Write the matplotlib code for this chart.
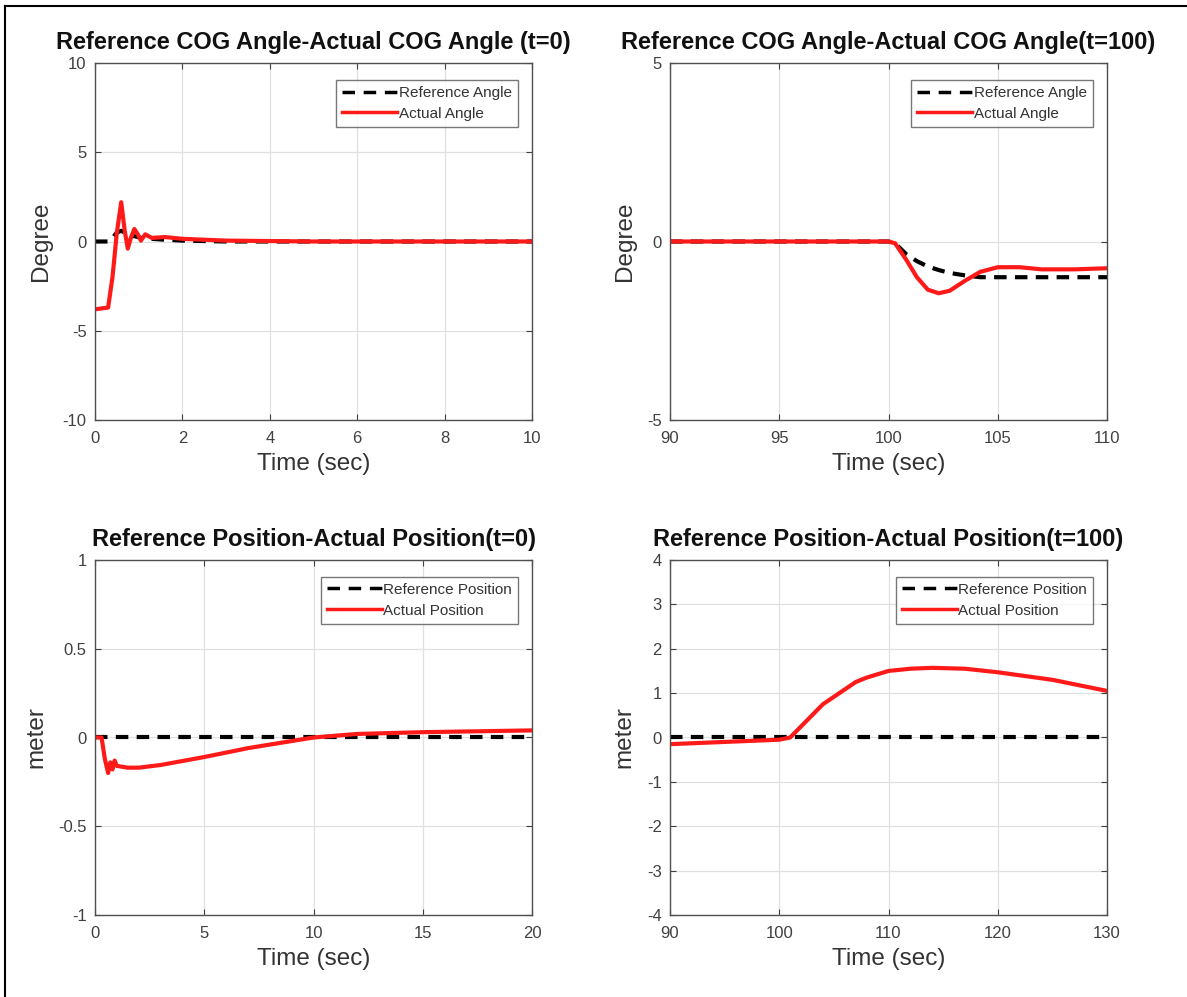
import numpy as np
import matplotlib.pyplot as plt
from matplotlib.lines import Line2D

plt.rcParams['font.family'] = ['Liberation Sans', 'DejaVu Sans']

# COG angle, t=0 case
t_ang0 = [0, 0.3, 0.4, 0.5, 0.6, 0.68, 0.75, 0.82, 0.9, 0.98, 1.05, 1.15, 1.3, 1.6, 2.0, 3.0, 5.0, 10.0]
ref_ang0 = [0, 0, 0.2, 0.5, 0.6, 0.5, 0.4, 0.3, 0.3, 0.25, 0.2, 0.2, 0.15, 0.1, 0.05, 0.0, 0.0, 0.0]
act_ang0 = [-3.8, -3.7, -2.0, 0.5, 2.2, 0.6, -0.4, 0.2, 0.7, 0.4, 0.05, 0.4, 0.2, 0.25, 0.15, 0.05, 0.0, 0.0]

# COG angle, t=100 case
t_ang100 = [90, 100.0, 100.3, 100.8, 101.3, 101.8, 102.3, 102.8, 103.5, 104.2, 105.0, 106.0, 107.0, 108.5, 110.0]
ref_ang100 = [0, 0, -0.05, -0.35, -0.55, -0.7, -0.8, -0.88, -0.95, -1.0, -1.0, -1.0, -1.0, -1.0, -1.0]
act_ang100 = [0, 0, -0.05, -0.5, -1.0, -1.35, -1.45, -1.38, -1.1, -0.85, -0.72, -0.72, -0.78, -0.78, -0.75]

# position, t=0 case
t_pos0 = [0, 0.3, 0.45, 0.6, 0.7, 0.8, 0.9, 1.0, 1.5, 2.0, 3.0, 5.0, 7.0, 9.0, 10.0, 12.0, 15.0, 20.0]
ref_pos0 = [0] * len(t_pos0)
act_pos0 = [0, 0, -0.12, -0.2, -0.14, -0.18, -0.13, -0.16, -0.17, -0.17, -0.155, -0.11, -0.06, -0.02, 0.0, 0.02, 0.03, 0.04]

# position, t=100 case
t_pos100 = [90, 95, 100, 101, 102, 103, 104, 105.5, 107, 108, 110, 112, 114, 117, 120, 125, 130]
ref_pos100 = [0] * len(t_pos100)
act_pos100 = [-0.15, -0.1, -0.05, 0.0, 0.25, 0.5, 0.75, 1.0, 1.25, 1.35, 1.5, 1.55, 1.57, 1.55, 1.47, 1.3, 1.05]

fig = plt.figure(figsize=(11.87, 9.97), dpi=100)
W, H = 1187, 997

def make_ax(x0, y0, x1, y1):
    return fig.add_axes([x0 / W, 1 - y1 / H, (x1 - x0) / W, (y1 - y0) / H])

panels = [
    (make_ax(95, 63, 532, 420), t_ang0, ref_ang0, act_ang0, (0, 10), (-10, 10),
     [0, 2, 4, 6, 8, 10], [-10, -5, 0, 5, 10], 'Degree',
     'Reference COG Angle-Actual COG Angle (t=0)', ['Reference Angle', 'Actual Angle']),
    (make_ax(670, 63, 1107, 420), t_ang100, ref_ang100, act_ang100, (90, 110), (-5, 5),
     [90, 95, 100, 105, 110], [-5, 0, 5], 'Degree',
     'Reference COG Angle-Actual COG Angle(t=100)', ['Reference Angle', 'Actual Angle']),
    (make_ax(95, 560, 532, 915), t_pos0, ref_pos0, act_pos0, (0, 20), (-1, 1),
     [0, 5, 10, 15, 20], [-1, -0.5, 0, 0.5, 1], 'meter',
     'Reference Position-Actual Position(t=0)', ['Reference Position', 'Actual Position']),
    (make_ax(670, 560, 1107, 915), t_pos100, ref_pos100, act_pos100, (90, 130), (-4, 4),
     [90, 100, 110, 120, 130], [-4, -3, -2, -1, 0, 1, 2, 3, 4], 'meter',
     'Reference Position-Actual Position(t=100)', ['Reference Position', 'Actual Position']),
]

for ax, t, ref, act, xl, yl, xt, yt, ylab, title, labels in panels:
    ax.plot(t, ref, color='black', linestyle='--', linewidth=3, dashes=(3, 2), label=labels[0])
    ax.plot(t, act, color='#ff1a1a', linewidth=3, label=labels[1])
    ax.set_xlim(xl)
    ax.set_ylim(yl)
    ax.set_xticks(xt)
    ax.set_yticks(yt)
    ax.set_xticklabels([f'{v:g}' for v in xt])
    ax.set_yticklabels([f'{v:g}' for v in yt])
    ax.grid(True, color='#e0e0e0', linewidth=0.9)
    ax.set_axisbelow(True)
    ax.tick_params(direction='in', labelsize=12, colors='#404040', length=4,
                   top=True, right=True)
    ax.tick_params(axis='x', pad=8)
    ax.tick_params(axis='y', pad=6)
    for s in ax.spines.values():
        s.set_color('#505050')
        s.set_linewidth(1.0)
    ax.set_xlabel('Time (sec)', fontsize=17.5, color='#333333', labelpad=5)
    ax.set_ylabel(ylab, fontsize=17.5, color='#333333', labelpad=8)
    ax.set_title(title, fontsize=17, fontweight='bold', color='#111111', pad=10)
    leg = ax.legend(loc='upper right', bbox_to_anchor=(0.968, 0.953), fontsize=11,
                    frameon=True, fancybox=False, edgecolor='#555555',
                    handlelength=3.6, handletextpad=0.1, borderpad=0.4,
                    labelspacing=0.45, borderaxespad=0)
    leg.get_frame().set_linewidth(1.0)
    leg_lines = leg.get_lines()
    for line in leg_lines:
        line.set_linewidth(2.5)
    leg_lines[0].set_dashes((3.6, 2.5))
    for txt in leg.get_texts():
        txt.set_color('#333333')

# thin page border on left and top
fig.add_artist(Line2D([5 / W, 5 / W], [0, 1 - 6 / H], color='black', linewidth=1.5))
fig.add_artist(Line2D([5 / W, 1], [1 - 6 / H, 1 - 6 / H], color='black', linewidth=1.5))

plt.savefig('out.png', dpi=100)
